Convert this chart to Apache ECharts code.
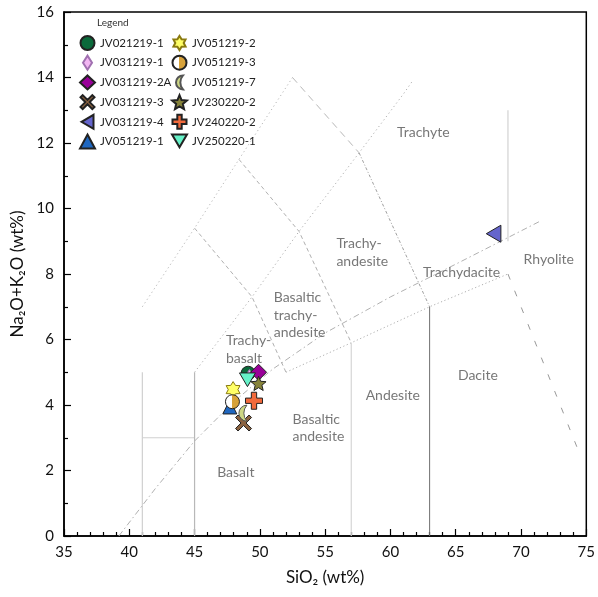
<!DOCTYPE html>
<html><head><meta charset="utf-8">
<script src="https://cdn.jsdelivr.net/npm/echarts@6/dist/echarts.min.js"></script>
<style>html,body{margin:0;padding:0;background:#fff}#c{width:598px;height:597px}</style>
</head><body><div id="c"></div>
<script>
// ---- sample data ----
const sampleNames = ['JV021219-1','JV031219-1','JV031219-2A','JV031219-3','JV031219-4','JV051219-1','JV051219-2','JV051219-3','JV051219-7','JV230220-2','JV240220-2','JV250220-1'];
const sio2   = [49.1, 49.2, 49.9, 48.75, 67.9, 47.7, 47.95, 47.9, 48.7, 49.9, 49.55, 49.05];
const alkali = [4.97, 4.9, 5.0, 3.45, 9.23, 3.94, 4.47, 4.1, 3.75, 4.66, 4.13, 4.77];

// ---- axes ----
const xRange = [35, 75], xStep = 5;
const yRange = [0, 16], yStep = 2;

// ---- TAS field boundaries ----
const bndA = [[41,7],[45,9.4],[48.4,11.5],[52.5,14]];
const bndC = [[45,5],[49.4,7.3],[53,9.3],[57.6,11.7],[61,13.5],[61.7,13.9]];
const bndD = [[45,9.4],[49.4,7.3],[52,5]];
const bndE = [[48.4,11.5],[53,9.3],[57,5.9]];
const bndF1 = [[52.5,14],[57.6,11.7]];
const bndF2 = [[57.6,11.7],[63,7]];
const bndBase = [[52,5],[57,5.9],[63,7],[69,8]];
const bndRhy = [[69,8],[74.3,2.7]];
const bnd69 = [[69,9],[69,13]];
const v41 = [[41,0],[41,5]];
const h3 = [[41,3],[45,3]];
const v45 = [[45,0],[45,5]];
const v57 = [[57,0],[57,5.9]];
const v63 = [[63,0],[63,7]];
const alkDivide = [[39.2,0],[42,1.45],[45,2.9],[48,4.1],[51,5.1],[55,6.2],[60,7.3],[65,8.3],[71.4,9.6]];

// ---- field names ----
const rockNames = ['Trachyte','Trachy-\nandesite','Trachydacite','Rhyolite','Basaltic\ntrachy-\nandesite','Trachy-\nbasalt','Andesite','Dacite','Basaltic\nandesite','Basalt'];
const rockX = [60.5, 55.86, 62.49, 70.2, 51.06, 47.4, 58.1, 65.17, 52.5, 46.73];
const rockY = [12.31, 8.65, 8.05, 8.45, 6.74, 5.70, 4.3, 4.91, 3.30, 1.94];

function starPath(n, ro, ri){
  let s='';
  for(let k=0;k<2*n;k++){
    const r = k%2 ? ri : ro;
    const a = Math.PI*k/n - Math.PI/2;
    s += (k?'L':'M') + (r*Math.cos(a)+ro).toFixed(2) + ',' + (r*Math.sin(a)+ro).toFixed(2);
  }
  return 'path://'+s+'Z';
}
const halfFill = {type:'linear',x:0,y:0,x2:1,y2:0,colorStops:[{offset:0,color:'#ffffff'},{offset:0.5,color:'#ffffff'},{offset:0.5,color:'#d7a23a'},{offset:1,color:'#d7a23a'}]};
const styles = [
  {symbol:'circle', size:14, color:'#0b6a3b'},
  {symbol:'path://M0,7L4.5,0L9,7L4.5,14Z', size:12, color:'#f2b6f2', border:'#a070b0'},
  {symbol:'diamond', size:16, color:'#990099'},
  {symbol:'path://M2.5,0L8,5.5L13.5,0L16,2.5L10.5,8L16,13.5L13.5,16L8,10.5L2.5,16L0,13.5L5.5,8L0,2.5Z', size:16, color:'#8b6240'},
  {symbol:'path://M0,7L12,0L12,14Z', size:17, color:'#6565cc'},
  {symbol:'triangle', size:14, color:'#1f67c0'},
  {symbol:starPath(6,8,4.8), size:16, color:'#ffff66', border:'#8a7a10'},
  {symbol:'circle', size:14, color:halfFill},
  {symbol:'path://M8,0A8,8 0 0,0 8,16A12,12 0 0,1 8,0Z', size:16, color:'#cdd784', border:'#555'},
  {symbol:starPath(5,8,3.6), size:15, color:'#86833a'},
  {symbol:'path://M5.5,0L10.5,0L10.5,5.5L16,5.5L16,10.5L10.5,10.5L10.5,16L5.5,16L5.5,10.5L0,10.5L0,5.5L5.5,5.5Z', size:17, color:'#f26a3c'},
  {symbol:'path://M0,0L14,0L7,12Z', size:16, color:'#66f2c8'}
];

const lineSeries = [];
function addLine(data, color, type, width){
  lineSeries.push({type:'line', data:data, symbol:'none', silent:true, z:1,
    lineStyle:{color:color, type:type, width:width||1}, animation:false});
}
addLine(bndA, '#b8b8b8', [1.2,3]);
addLine(bndC, '#b0b0b0', [1.2,3]);
addLine(bndD, '#b0b0b0', [4,3]);
addLine(bndE, '#b0b0b0', [4,3]);
addLine(bndF1, '#b8b8b8', [7,5]);
addLine(bndF2, '#a0a0a0', [3,2,1,2]);
addLine(bndBase, '#b0b0b0', [1.2,2.5]);
addLine(bndRhy, '#999999', [6,12]);
addLine(bnd69, '#d2d2d2', 'solid', 1.2);
addLine(v41, '#d0d0d0', 'solid', 1.2);
addLine(h3, '#d0d0d0', 'solid', 1.2);
addLine(v45, '#b8b8b8', 'solid', 1.2);
addLine(v57, '#d6d6d6', 'solid', 1.2);
addLine(v63, '#707070', 'solid', 1);
addLine(alkDivide, '#b0b0b0', [6,3,1.5,3]);

const labelSeries = {
  type:'scatter', silent:true, symbolSize:0, z:2,
  data: rockX.map((x,i)=>[x, rockY[i]]),
  label:{show:true, position:[0,0], align:'left', verticalAlign:'middle',
    formatter:(p)=>rockNames[p.dataIndex], fontFamily:'Lato', fontSize:14, lineHeight:17.5, color:'#555'}
};

const sampleSeries = sampleNames.map((n,i)=>({
  name:n, type:'scatter', z:3, symbolKeepAspect:true,
  data:[[sio2[i], alkali[i]]],
  symbol:styles[i].symbol, symbolSize:styles[i].size,
  itemStyle:{color:styles[i].color, borderColor:styles[i].border||'#222', borderWidth:1, opacity:1}
}));

const legendCommon = {orient:'vertical', padding:0, itemWidth:15, itemHeight:14, itemGap:3.7,
  textStyle:{fontFamily:'Lato', fontSize:11.5, color:'#222'}, selectedMode:false};

const chart = echarts.init(document.getElementById('c'), null, {renderer:'canvas'});
chart.setOption({
  animation:false,
  backgroundColor:'#fff',
  title:{text:'Legend', left:97, top:18, padding:0, textStyle:{fontFamily:'Lato', fontSize:10, fontWeight:'normal', color:'#333'}},
  legend:[
    Object.assign({data:sampleNames.slice(0,6), left:79, top:35}, legendCommon),
    Object.assign({data:sampleNames.slice(6), left:171, top:35}, legendCommon)
  ],
  grid:{left:64, right:9, top:12, bottom:61, show:true, borderColor:'#000', borderWidth:1.5},
  xAxis:{type:'value', min:xRange[0], max:xRange[1], interval:xStep,
    name:'SiO\u2082 (wt%)', nameLocation:'middle', nameGap:33,
    nameTextStyle:{fontFamily:'Lato', fontSize:17, color:'#111'},
    axisLine:{lineStyle:{color:'#000', width:1.5}},
    axisTick:{inside:true, length:7, lineStyle:{color:'#000', width:1.2}},
    minorTick:{show:true, splitNumber:5, length:4, lineStyle:{color:'#000', width:1.2}},
    axisLabel:{fontFamily:'Lato', fontSize:15, color:'#111', margin:9},
    splitLine:{show:false}},
  yAxis:{type:'value', min:yRange[0], max:yRange[1], interval:yStep,
    name:'Na\u2082O+K\u2082O (wt%)', nameLocation:'middle', nameGap:31,
    nameTextStyle:{fontFamily:'Lato', fontSize:17, color:'#111'},
    axisLine:{lineStyle:{color:'#000', width:1.5}},
    axisTick:{inside:true, length:7, lineStyle:{color:'#000', width:1.2}},
    minorTick:{show:true, splitNumber:2, length:4, lineStyle:{color:'#000', width:1.2}},
    axisLabel:{fontFamily:'Lato', fontSize:15, color:'#111', margin:10},
    splitLine:{show:false}},
  series: lineSeries.concat([labelSeries]).concat(sampleSeries)
});
</script></body></html>
